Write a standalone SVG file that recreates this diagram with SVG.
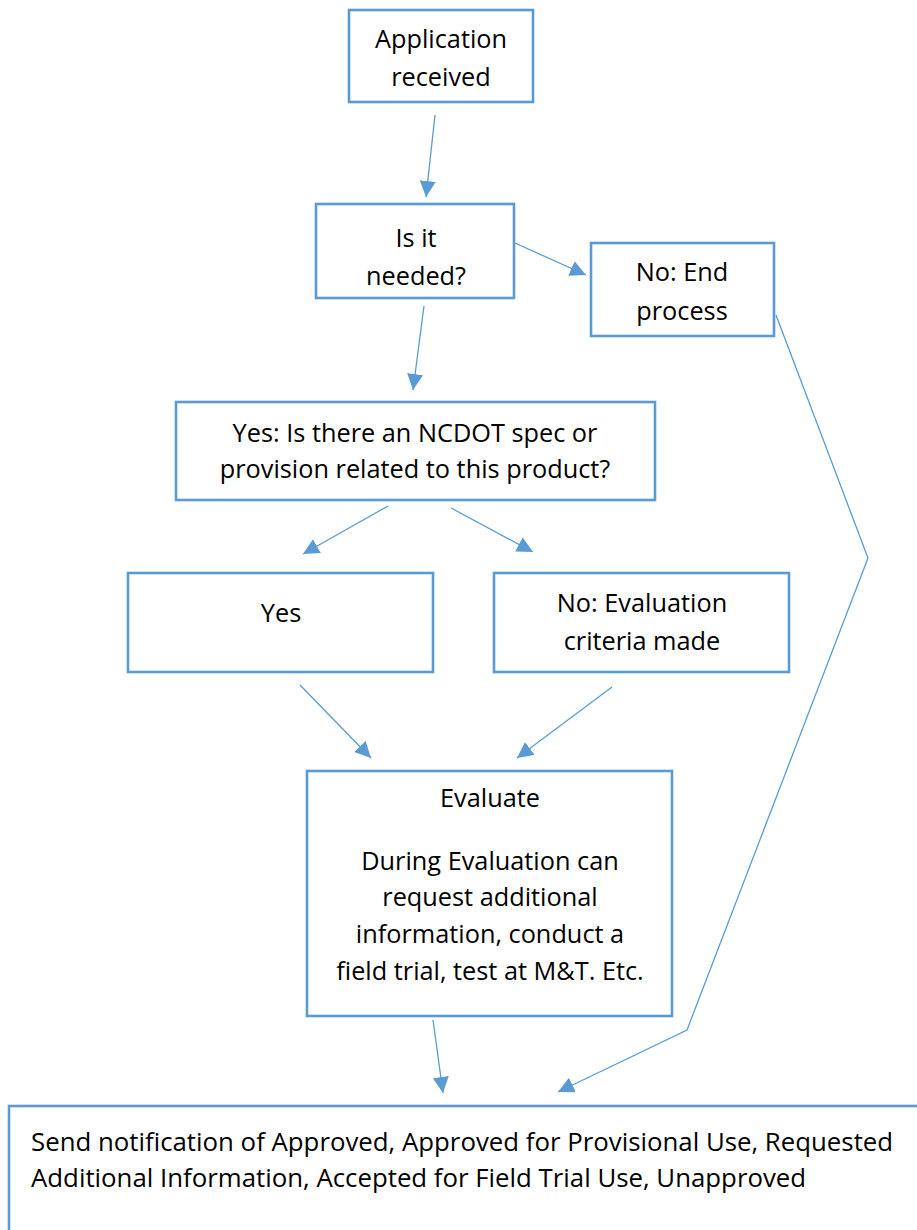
<svg xmlns="http://www.w3.org/2000/svg" width="917" height="1230" viewBox="0 0 917 1230">
<style>
.box{fill:#fff;stroke:#5B9BD5;stroke-width:2.6}
.t{font-family:"Open Sans","Liberation Sans",sans-serif;font-size:25.3px;fill:#000;text-anchor:middle}
.tl{font-family:"Open Sans","Liberation Sans",sans-serif;font-size:25.8px;fill:#000}
.c{fill:none;stroke:#5B9BD5;stroke-width:1.3}
</style>
<defs>
<marker id="ah" markerUnits="userSpaceOnUse" markerWidth="18" markerHeight="18" refX="16" refY="8" orient="auto">
<path d="M0,0 L16,8 L0,16 z" fill="#5B9BD5"/>
</marker>
</defs>
<rect width="917" height="1230" fill="#fff"/>
<g id="connectors">
<line class="c" x1="435" y1="115" x2="426" y2="197" marker-end="url(#ah)"/>
<line class="c" x1="515" y1="243" x2="586" y2="275" marker-end="url(#ah)"/>
<line class="c" x1="424" y1="306" x2="413" y2="390" marker-end="url(#ah)"/>
<line class="c" x1="388" y1="506" x2="303" y2="554" marker-end="url(#ah)"/>
<line class="c" x1="451" y1="508" x2="533" y2="552" marker-end="url(#ah)"/>
<line class="c" x1="300" y1="685" x2="371" y2="758" marker-end="url(#ah)"/>
<line class="c" x1="612" y1="687" x2="517" y2="758" marker-end="url(#ah)"/>
<line class="c" x1="433" y1="1020" x2="443" y2="1093" marker-end="url(#ah)"/>
<polyline class="c" points="776,315 868,558 687,1030 558,1092" marker-end="url(#ah)"/>
</g>
<g id="n1">
<rect class="box" x="349" y="10" width="184" height="92"/>
<text class="t" x="441" y="48">Application</text>
<text class="t" x="441" y="86">received</text>
</g>
<g id="n2">
<rect class="box" x="316" y="204" width="198" height="94"/>
<text class="t" x="416" y="247">Is it</text>
<text class="t" x="416" y="285">needed?</text>
</g>
<g id="n3">
<rect class="box" x="591" y="243" width="183" height="93"/>
<text class="t" x="682" y="281">No: End</text>
<text class="t" x="682" y="320">process</text>
</g>
<g id="n4">
<rect class="box" x="176" y="402" width="479" height="98"/>
<text class="t" x="415" y="442">Yes: Is there an NCDOT spec or</text>
<text class="t" x="415" y="478">provision related to this product?</text>
</g>
<g id="n5">
<rect class="box" x="128" y="573" width="305" height="99"/>
<text class="t" x="281" y="622">Yes</text>
</g>
<g id="n6">
<rect class="box" x="494" y="573" width="295" height="99"/>
<text class="t" x="642" y="612">No: Evaluation</text>
<text class="t" x="642" y="650">criteria made</text>
</g>
<g id="n7">
<rect class="box" x="307" y="771" width="365" height="245"/>
<text class="t" x="490" y="807">Evaluate</text>
<text class="t" x="490" y="870">During Evaluation can</text>
<text class="t" x="490" y="906">request additional</text>
<text class="t" x="490" y="943">information, conduct a</text>
<text class="t" x="490" y="980">field trial, test at M&amp;T. Etc.</text>
</g>
<g id="n8">
<rect class="box" x="9" y="1106" width="1000" height="200"/>
<text class="tl" x="31" y="1151">Send notification of Approved, Approved for Provisional Use, Requested</text>
<text class="tl" x="31" y="1187">Additional Information, Accepted for Field Trial Use, Unapproved</text>
</g>
</svg>
